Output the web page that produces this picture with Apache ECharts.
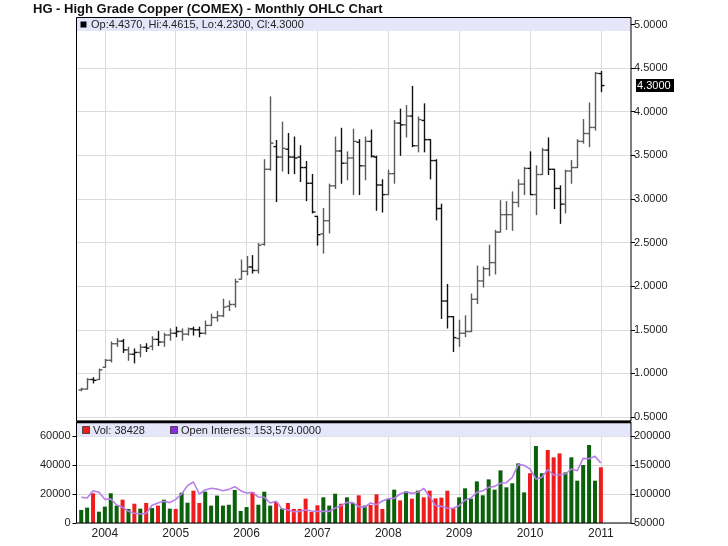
<!DOCTYPE html>
<html><head><meta charset="utf-8">
<script src="https://cdn.jsdelivr.net/npm/echarts@6/dist/echarts.min.js"></script>
<style>html,body{margin:0;padding:0;background:#fff}#c{width:728px;height:546px}</style>
</head><body><div id="c"></div>
<script>
const chartTitle = 'HG - High Grade Copper (COMEX) - Monthly OHLC Chart';
const firstYear = 2003, firstMonth = 9; // first bar: Sep 2003, monthly to Jan 2011
const yearLabels = ['2004','2005','2006','2007','2008','2009','2010','2011'];

const opens = [0.81,0.82,0.93,0.93,1.07,1.15,1.34,1.37,1.27,1.22,1.24,1.30,1.31,1.39,1.36,1.44,1.46,1.48,1.45,1.51,1.50,1.46,1.55,1.64,1.66,1.77,1.79,2.08,2.17,2.22,2.18,2.48,3.34,3.60,3.48,3.57,3.48,3.48,3.36,3.18,2.80,2.60,2.75,3.15,3.55,3.41,3.47,3.65,3.38,3.66,3.48,3.16,3.05,3.29,3.87,3.85,3.95,3.61,3.90,3.68,3.44,2.89,1.83,1.65,1.40,1.46,1.48,1.85,2.06,2.20,2.27,2.62,2.82,2.82,2.96,3.17,3.35,3.05,3.28,3.56,3.34,3.12,2.94,3.32,3.36,3.66,3.75,3.82,4.437];
const highs = [0.83,0.94,0.95,1.05,1.16,1.36,1.40,1.39,1.30,1.28,1.33,1.34,1.42,1.48,1.46,1.51,1.53,1.51,1.52,1.53,1.53,1.60,1.68,1.71,1.85,1.83,2.08,2.30,2.34,2.35,2.49,3.45,4.17,3.67,3.88,3.75,3.71,3.61,3.43,3.28,2.80,2.89,3.17,3.71,3.81,3.54,3.80,3.68,3.71,3.79,3.49,3.22,3.33,3.90,4.03,4.07,4.29,3.94,4.09,3.68,3.45,2.94,2.02,1.65,1.61,1.66,1.91,2.23,2.22,2.47,2.64,2.98,2.97,3.08,3.22,3.36,3.54,3.38,3.58,3.70,3.34,3.15,3.33,3.44,3.68,3.91,4.10,4.45,4.4615];
const lows = [0.80,0.82,0.89,0.93,1.07,1.13,1.31,1.24,1.15,1.12,1.19,1.25,1.27,1.32,1.31,1.38,1.42,1.38,1.44,1.44,1.42,1.45,1.55,1.60,1.65,1.72,1.76,2.08,2.13,2.15,2.15,2.47,3.33,2.97,3.32,3.29,3.29,3.20,2.98,2.84,2.47,2.38,2.61,3.12,3.18,3.22,3.05,3.05,3.22,3.48,2.87,2.85,3.05,3.18,3.50,3.71,3.60,3.54,3.54,3.23,2.76,1.63,1.52,1.25,1.31,1.42,1.48,1.80,1.99,2.12,2.14,2.62,2.65,2.64,2.91,3.05,3.05,2.82,3.28,3.28,2.89,2.72,2.84,3.18,3.36,3.64,3.60,3.79,4.23];
const closes = [0.82,0.93,0.92,1.04,1.15,1.34,1.37,1.27,1.22,1.24,1.30,1.29,1.39,1.36,1.44,1.46,1.48,1.45,1.51,1.50,1.46,1.55,1.64,1.66,1.76,1.79,2.05,2.17,2.22,2.18,2.47,3.34,3.64,3.48,3.58,3.48,3.47,3.36,3.18,2.85,2.59,2.75,3.15,3.55,3.41,3.47,3.66,3.38,3.66,3.49,3.16,3.05,3.29,3.87,3.85,3.95,3.61,3.91,3.68,3.44,2.89,1.83,1.65,1.41,1.46,1.48,1.85,2.06,2.20,2.27,2.62,2.82,2.82,2.96,3.17,3.35,3.05,3.28,3.56,3.34,3.12,2.94,3.32,3.36,3.66,3.75,3.82,4.44,4.30];
const volumes = [9000,10600,20500,7800,11300,20500,12000,16100,9700,13300,9900,13800,10300,12000,16100,9900,9700,20900,14000,22300,13800,21600,12000,18900,12000,12600,22800,8300,11000,21400,12600,21600,12000,14500,9900,13800,9700,9700,16800,7600,12200,17700,12000,20200,13300,17700,13800,19100,12000,12400,19800,9700,16800,23000,15600,21800,16800,22300,17700,22300,17000,17500,22300,10300,17700,23900,16800,28700,19100,30100,23000,36300,24600,27400,41100,21100,34300,53100,34300,50300,45300,48000,34900,45300,29200,40000,53800,29200,38428];
// 1 = down month (red volume bar), 0 = up month (green)
const volDown = [0,0,1,0,0,0,0,1,0,1,0,1,0,1,0,0,1,0,0,1,1,0,0,0,0,0,0,0,0,1,0,0,0,1,0,1,1,1,1,1,1,0,0,0,1,0,0,1,0,1,1,1,0,0,1,0,1,0,1,1,1,1,1,1,0,0,0,0,0,0,0,0,0,0,0,0,1,0,0,1,1,1,0,0,0,0,0,0,1];
const openInterest = [94300,93100,105700,102900,90800,91400,81000,77000,70100,66700,65500,66700,80500,84500,87400,85100,90800,100000,114400,120700,100000,106900,109800,108600,105700,108000,112600,105700,101700,102900,94800,94300,84500,87400,74700,72400,69500,70100,72400,70700,70100,70100,70100,75900,79900,85600,85100,78200,77600,84500,81600,87900,92000,92500,100000,104000,101100,102900,109800,95400,79900,78700,75900,75300,79900,89700,93100,102900,105700,111500,113200,118400,119500,128700,150600,149400,143100,125900,128700,142000,132800,133300,134500,143100,140200,161500,160900,164900,153579];

// month index 0 = first bar; January of each labelled year
const yearPos = yearLabels.map(y => (Number(y) - firstYear) * 12 + (1 - firstMonth));
const n = closes.length;
const ohlcData = closes.map((c, i) => [i, opens[i], highs[i], lows[i], c, volDown[i]]);
const volData = volumes.map((v, i) => ({ value: [i, v], itemStyle: { color: volDown[i] ? '#ee1c1c' : '#0b600b' } }));
const oiData = openInterest.map((v, i) => [i, v]);

const L = 76.5, W = 554.5;
const FONT = 'Liberation Sans, Arial, sans-serif';
const gridLineColor = '#dcdcdc';

const chart = echarts.init(document.getElementById('c'), null, { renderer: 'canvas' });

const xCommon = {
  type: 'value', min: -0.8, max: 93.1,
  axisLine: { show: false, onZero: false },
  axisTick: { show: false, customValues: yearPos },
  splitLine: { show: true, lineStyle: { color: gridLineColor, width: 1 } }
};
const tickStyle = { show: true, length: 4, lineStyle: { color: '#000' } };

const option = {
  animation: false,
  backgroundColor: '#fff',
  grid: [
    { left: L, top: 24.5, width: W, height: 392.5 },
    { left: L, top: 436, width: W, height: 87 }
  ],
  xAxis: [
    Object.assign({}, xCommon, { gridIndex: 0, axisLabel: { show: false, customValues: yearPos } }),
    Object.assign({}, xCommon, { gridIndex: 1, axisLabel: {
      show: true, customValues: yearPos, margin: 5,
      fontFamily: FONT, fontSize: 12, color: '#222',
      formatter: v => yearLabels[yearPos.indexOf(Math.round(v))] || ''
    } })
  ],
  yAxis: [
    { type: 'value', gridIndex: 0, position: 'right', min: 0.5, max: 5, interval: 0.5,
      axisLine: { show: false, onZero: false },
      axisTick: tickStyle,
      axisLabel: { margin: 3, fontFamily: FONT, fontSize: 11, color: '#222', formatter: v => v.toFixed(4) },
      splitLine: { show: true, lineStyle: { color: gridLineColor } } },
    { type: 'value', gridIndex: 1, position: 'left', min: 0, max: 60000, interval: 20000,
      axisLine: { show: false, onZero: false },
      axisTick: tickStyle,
      axisLabel: { margin: 6, fontFamily: FONT, fontSize: 11, color: '#222', formatter: v => String(v) },
      splitLine: { show: true, lineStyle: { color: gridLineColor } } },
    { type: 'value', gridIndex: 1, position: 'right', min: 50000, max: 200000, interval: 50000,
      axisLine: { show: false, onZero: false },
      axisTick: tickStyle,
      axisLabel: { margin: 3, fontFamily: FONT, fontSize: 11, color: '#222', formatter: v => String(v) },
      splitLine: { show: false } }
  ],
  series: [
    {
      type: 'custom', xAxisIndex: 0, yAxisIndex: 0, data: ohlcData,
      encode: { x: 0, y: [1, 2, 3, 4] },
      renderItem: function (params, api) {
        const i = api.value(0);
        const o = api.coord([i, api.value(1)]);
        const h = api.coord([i, api.value(2)]);
        const l = api.coord([i, api.value(3)]);
        const c = api.coord([i, api.value(4)]);
        const x = Math.round(o[0]) + 0.5;
        const col = api.value(5) ? '#111' : '#5a5a5a';
        const st = { stroke: col, lineWidth: 1.4 };
        return { type: 'group', children: [
          { type: 'line', shape: { x1: x, y1: h[1] - 0.5, x2: x, y2: l[1] + 0.5 }, style: st },
          { type: 'line', shape: { x1: x - 3, y1: o[1], x2: x, y2: o[1] }, style: st },
          { type: 'line', shape: { x1: x, y1: c[1], x2: x + 3, y2: c[1] }, style: st }
        ] };
      }
    },
    { type: 'bar', xAxisIndex: 1, yAxisIndex: 1, data: volData, barWidth: 4, z: 2 },
    { type: 'line', xAxisIndex: 1, yAxisIndex: 2, data: oiData, symbol: 'none', z: 3,
      lineStyle: { color: '#b87ee8', width: 1.6 } }
  ]
};
chart.setOption(option);

// overlays: frames, legend bands, title, last price tag
const last = n - 1;
const lastY = chart.convertToPixel({ yAxisIndex: 0 }, closes[last]);
const lbl = 'Op:' + opens[last].toFixed(4) + ', Hi:' + highs[last].toFixed(4) + ', Lo:' + lows[last].toFixed(4) + ', Cl:' + closes[last].toFixed(4);
const oiTxt = 'Open Interest: ' + openInterest[last].toLocaleString('en-US') + '.0000';
chart.setOption({
  graphic: [
    { type: 'text', left: 33, top: 3, z: 200, style: { text: chartTitle, font: 'bold 13px ' + FONT, fill: '#111' } },
    { type: 'rect', z: 100, shape: { x: 77, y: 18, width: 554, height: 13 }, style: { fill: '#e6e6fa' } },
    { type: 'rect', z: 101, shape: { x: 80.5, y: 21.5, width: 6, height: 6 }, style: { fill: '#000' } },
    { type: 'text', z: 101, x: 91, y: 25, style: { text: lbl, font: '11px ' + FONT, fill: '#222', verticalAlign: 'middle' } },
    { type: 'rect', z: 102, shape: { x: L, y: 17.5, width: W, height: 403.5 }, style: { fill: null, stroke: '#000', lineWidth: 1 } },
    { type: 'rect', z: 100, shape: { x: 77, y: 423, width: 554, height: 13.5 }, style: { fill: '#e6e6fa' } },
    { type: 'rect', z: 101, shape: { x: 82.5, y: 426.5, width: 7, height: 7 }, style: { fill: '#ee1c1c', stroke: '#333', lineWidth: 0.8 } },
    { type: 'text', z: 101, x: 93, y: 430.5, style: { text: 'Vol: ' + volumes[last], font: '11px ' + FONT, fill: '#222', verticalAlign: 'middle' } },
    { type: 'rect', z: 101, shape: { x: 170.5, y: 426.5, width: 7, height: 7 }, style: { fill: '#8a2be2', stroke: '#333', lineWidth: 0.8 } },
    { type: 'text', z: 101, x: 181, y: 430.5, style: { text: oiTxt, font: '11px ' + FONT, fill: '#222', verticalAlign: 'middle' } },
    { type: 'rect', z: 102, shape: { x: L, y: 422, width: W, height: 101 }, style: { fill: null, stroke: '#000', lineWidth: 1 } },
    { type: 'line', z: 103, shape: { x1: L, y1: 422, x2: L + W, y2: 422 }, style: { stroke: '#000', lineWidth: 2.5 } },
    { type: 'rect', z: 104, shape: { x: 636, y: lastY - 6.5, width: 38, height: 13 }, style: { fill: '#000' } },
    { type: 'text', z: 105, x: 637, y: lastY, style: { text: closes[last].toFixed(4), font: '11px ' + FONT, fill: '#fff', verticalAlign: 'middle' } }
  ]
});
</script>
</body></html>
